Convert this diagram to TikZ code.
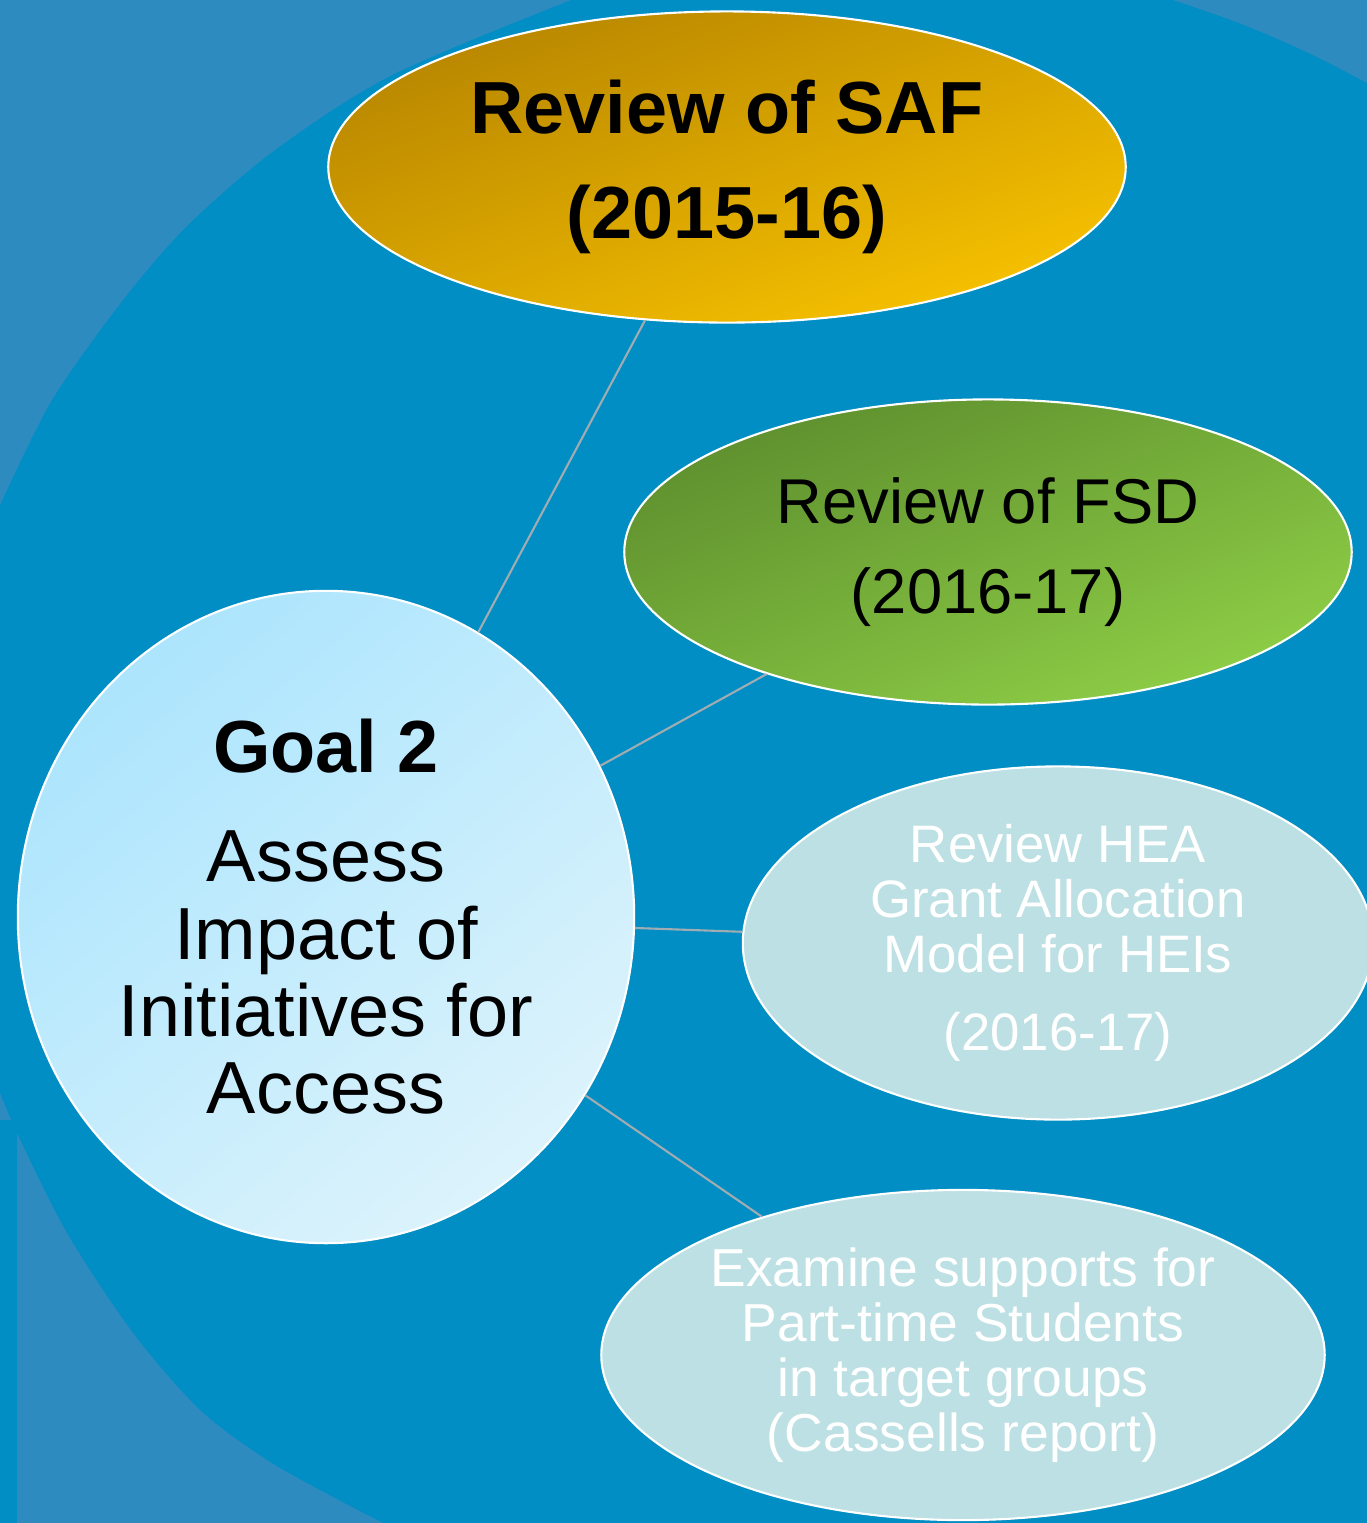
\documentclass[tikz,border=0pt]{standalone}
\usepackage{fontspec}
\setmainfont{Liberation Sans}
\usetikzlibrary{shapes.geometric}

\definecolor{bgdark}{RGB}{0,142,196}
\definecolor{bglight}{RGB}{46,139,192}
\definecolor{safdark}{RGB}{184,134,0}
\definecolor{saflight}{RGB}{247,194,0}
\definecolor{fsddark}{RGB}{94,143,46}
\definecolor{fsdlight}{RGB}{142,206,70}
\definecolor{goaldark}{RGB}{172,229,253}
\definecolor{goallight}{RGB}{220,243,252}
\definecolor{paleteal}{RGB}{188,224,227}
\definecolor{linkgrey}{RGB}{160,172,178}

\begin{document}
\begin{tikzpicture}[x=0.01cm,y=-0.01cm]

\tikzset{bubble/.style = {shape=ellipse, draw=white, line width=0.6pt, inner sep=0pt, align=center}}
\tikzset{link/.style = {draw=linkgrey, line width=0.6pt}}

%background
\useasboundingbox (0,0) rectangle (1367,1523);
\fill[bgdark] (0,0) rectangle (1367,1523);
\fill[bglight] (0,0) -- plot[smooth] coordinates {(571,0) (392,75) (275,150) (188,225) (123,300) (52,400) (0,505)} -- cycle;
\fill[bglight] (1367,0) -- plot[smooth] coordinates {(1173,0) (1231,20) (1280,40) (1323,60) (1367,83)} -- cycle;
\fill[bglight] (0,1523) -- plot[smooth] coordinates {(-5,1080) (17,1133) (67,1233) (133,1333) (200,1410) (267,1460) (333,1497) (383,1523)} -- cycle;
\fill[bgdark] (0,1120) rectangle (17,1523);

%nodes
\node[bubble, top color=safdark, bottom color=saflight, shading angle=20,
  minimum width=7.97cm, minimum height=3.11cm,
  font=\fontsize{21}{30}\selectfont\bfseries] (saf) at (727,167) {Review of SAF\\(2015-16)};
\node[bubble, top color=fsddark, bottom color=fsdlight, shading angle=22,
  minimum width=7.27cm, minimum height=3.05cm,
  font=\fontsize{18}{25.6}\selectfont] (fsd) at (988,552) {Review of FSD\\(2016-17)};
\node[bubble, fill=paleteal, text=white,
  minimum width=6.30cm, minimum height=3.53cm,
  font=\fontsize{15}{15.6}\selectfont] (hea) at (1058,943) {Review HEA\\Grant Allocation\\Model for HEIs\\[6.5pt](2016-17)};
\node[bubble, fill=paleteal, text=white,
  minimum width=7.23cm, minimum height=3.30cm,
  font=\fontsize{15.2}{15.6}\selectfont] (cas) at (963,1355) {Examine supports for\\Part-time Students\\in target groups\\(Cassells report)};
\node[bubble, top color=goaldark, bottom color=goallight, shading angle=40,
  minimum width=6.16cm, minimum height=6.52cm,
  font=\fontsize{21}{22}\selectfont] (goal) at (326,917) {{\bfseries Goal 2}\\[9pt]Assess\\Impact of\\Initiatives for\\Access};

%edges
\draw[link] (goal) -- (saf);
\draw[link] (goal) -- (fsd);
\draw[link] (goal) -- (hea);
\draw[link] (goal) -- (cas);

\end{tikzpicture}
\end{document}
